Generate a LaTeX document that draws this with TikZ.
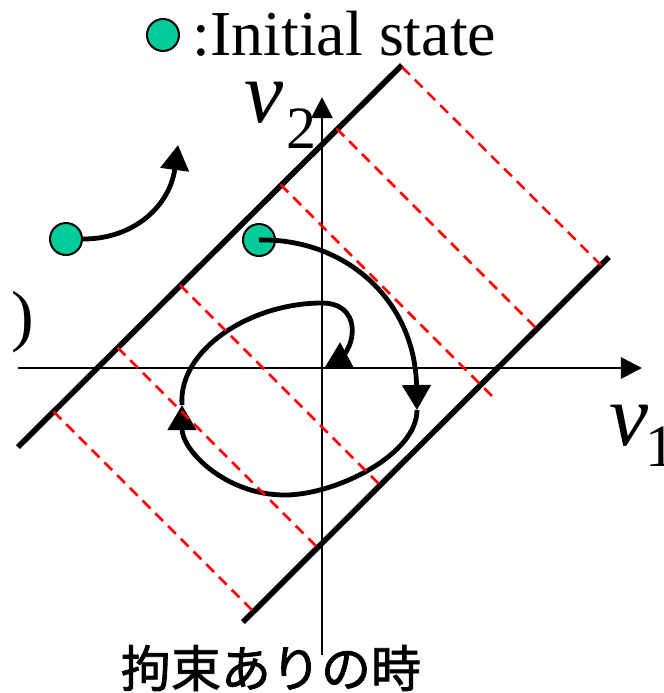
\documentclass[tikz,border=0pt]{standalone}
\usepackage{fontspec}
\setmainfont{Liberation Serif}
\newfontfamily\jpfont[BoldFont={Noto Sans CJK JP},BoldFeatures={FakeBold=1.6}]{Noto Sans CJK JP}
\usetikzlibrary{arrows.meta}
\definecolor{stategreen}{RGB}{0,204,153}
\definecolor{cred}{RGB}{255,0,0}
\begin{document}
\begin{tikzpicture}[x=0.5pt,y=-0.5pt,
  axis/.style={line width=1.4pt,-{Triangle[length=10.5pt,width=10.5pt]}},
  bound/.style={line width=2.8pt},
  guide/.style={cred,line width=1.25pt,dash pattern=on 5.5pt off 3.5pt},
  traj/.style={line width=2.4pt},
  trajtip/.style={-{Triangle[length=12.5pt,width=14pt]}},
  statedot/.style={circle,draw,fill=stategreen,line width=1pt,minimum size=16pt,inner sep=0pt},
  lbl/.style={inner sep=0pt,anchor=base west}]
\useasboundingbox (0,0) rectangle (664,693);

% legend
\node[statedot] (c0) at (163,35) {};
\node[lbl,font=\fontsize{32}{32}\selectfont] (legend) at (192,55) {:Initial state};

% axes
\coordinate (xs) at (18,368); \coordinate (xe) at (642,368);
\coordinate (ys) at (322,655); \coordinate (ye) at (322,97);
\draw[axis] (xs) -- (xe);
\draw[axis] (ys) -- (ye);

% axis labels
\node[lbl,font=\fontsize{44}{44}\selectfont\itshape] (v2) at (244,122) {v};
\node[lbl,font=\fontsize{30}{30}\selectfont] (v2s) at (286,148) {2};
\node[lbl,font=\fontsize{44}{44}\selectfont\itshape] (v1) at (609,445) {v};
\node[lbl,font=\fontsize{30}{30}\selectfont] (v1s) at (645,466) {1};

% paren fragment
\node[lbl,font=\fontsize{34}{34}\selectfont] (paren) at (11,338) {)};

% constraint boundaries
\coordinate (UA) at (18,447); \coordinate (UB) at (402,65);
\coordinate (LA) at (243,622); \coordinate (LB) at (609,257);
\draw[bound] (UA) -- (UB);
\draw[bound] (LA) -- (LB);

% initial states
\node[statedot] (c1) at (66,239) {};
\node[statedot] (c2) at (259,240) {};

% free trajectory
\draw[traj,trajtip] (c1.east) .. controls (135,239) and (170,205) .. (178,145);

% constrained trajectory
\draw[traj,trajtip] (c2.center) .. controls (345,238) and (415,300) .. (417,410);
\coordinate (ta) at (417,410);
\coordinate (tb) at (285,495);
\coordinate (tc) at (182,405);
\coordinate (td) at (322,303);
\coordinate (te) at (352,335);
\coordinate (tf) at (325,367);
\draw[traj,trajtip] (ta) .. controls (417,455) and (335,495) .. (tb)
   .. controls (225,495) and (182,450) .. (tc);
\draw[traj,trajtip] (tc) .. controls (178,350) and (250,303) .. (td)
   .. controls (345,303) and (354,318) .. (te)
   .. controls (350,352) and (338,360) .. (tf);

% guide lines
\coordinate (g1s) at (402,67);    \coordinate (g1e) at (603,267);
\coordinate (g2s) at (336.5,128.5); \coordinate (g2e) at (537,329);
\coordinate (g3s) at (280.5,184.5); \coordinate (g3e) at (496.5,400.5);
\coordinate (g4s) at (180,285);   \coordinate (g4e) at (380,485);
\coordinate (g5s) at (117.5,347.5); \coordinate (g5e) at (317.5,547.5);
\coordinate (g6s) at (53.5,411.5); \coordinate (g6e) at (253.5,611.5);
\foreach \i in {1,...,6} { \draw[guide] (g\i s) -- (g\i e); }

% caption
\node[font=\jpfont\bfseries\fontsize{25}{25}\selectfont,inner sep=0pt] (cap) at (271,668) {拘束ありの時};
\end{tikzpicture}
\end{document}
